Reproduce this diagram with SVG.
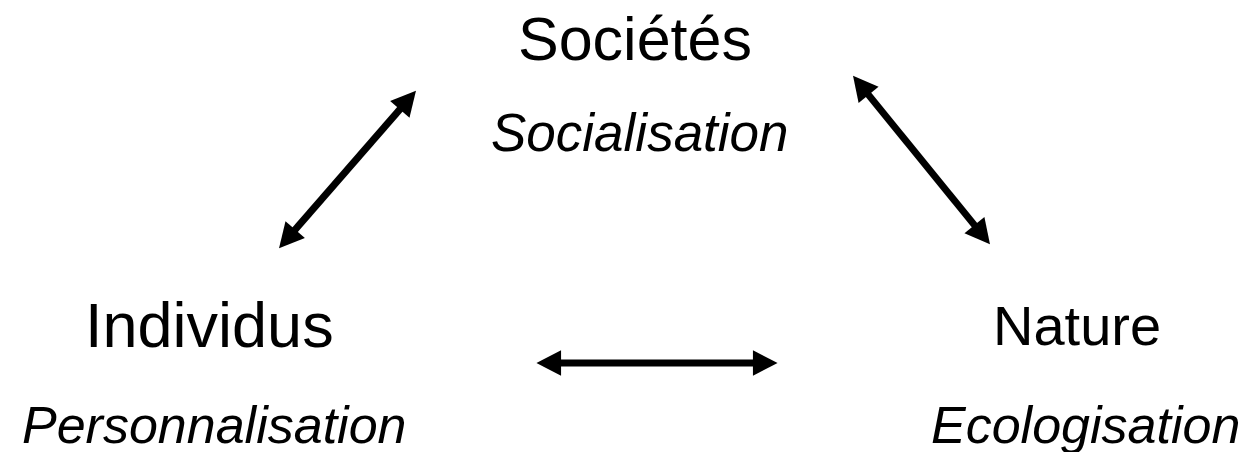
<svg xmlns="http://www.w3.org/2000/svg" width="1254" height="452" viewBox="0 0 1254 452">
<style>
.t{font-family:"Liberation Sans",Arial,sans-serif;fill:#000}
.i{font-style:italic}
.c{stroke:#000;stroke-width:7;fill:none}
</style>
<defs>
<marker id="ah" markerUnits="userSpaceOnUse" markerWidth="30" markerHeight="30" viewBox="-2 -14 28 28" refX="1" refY="0" orient="auto-start-reverse">
<path d="M0,-12 L23,0 L0,12 z" fill="#000"/>
</marker>
</defs>
<rect width="1254" height="452" fill="#fff"/>
<g id="societes">
<text class="t" x="518" y="60" font-size="61">Sociétés</text>
<text class="t i" x="491" y="151" font-size="53">Socialisation</text>
</g>
<g id="individus">
<text class="t" x="85" y="347" font-size="63">Individus</text>
<text class="t i" x="22" y="443" font-size="52">Personnalisation</text>
</g>
<g id="nature">
<text class="t" x="993" y="345" font-size="56">Nature</text>
<text class="t i" x="931" y="443" font-size="52">Ecologisation</text>
</g>
<g id="connectors">
<line class="c" x1="294.5" y1="230.4" x2="400.5" y2="108.6" marker-start="url(#ah)" marker-end="url(#ah)"/>
<line class="c" x1="867.9" y1="94.1" x2="975.1" y2="225.9" marker-start="url(#ah)" marker-end="url(#ah)"/>
<line class="c" x1="560" y1="363" x2="754" y2="363" marker-start="url(#ah)" marker-end="url(#ah)"/>
</g>
</svg>
